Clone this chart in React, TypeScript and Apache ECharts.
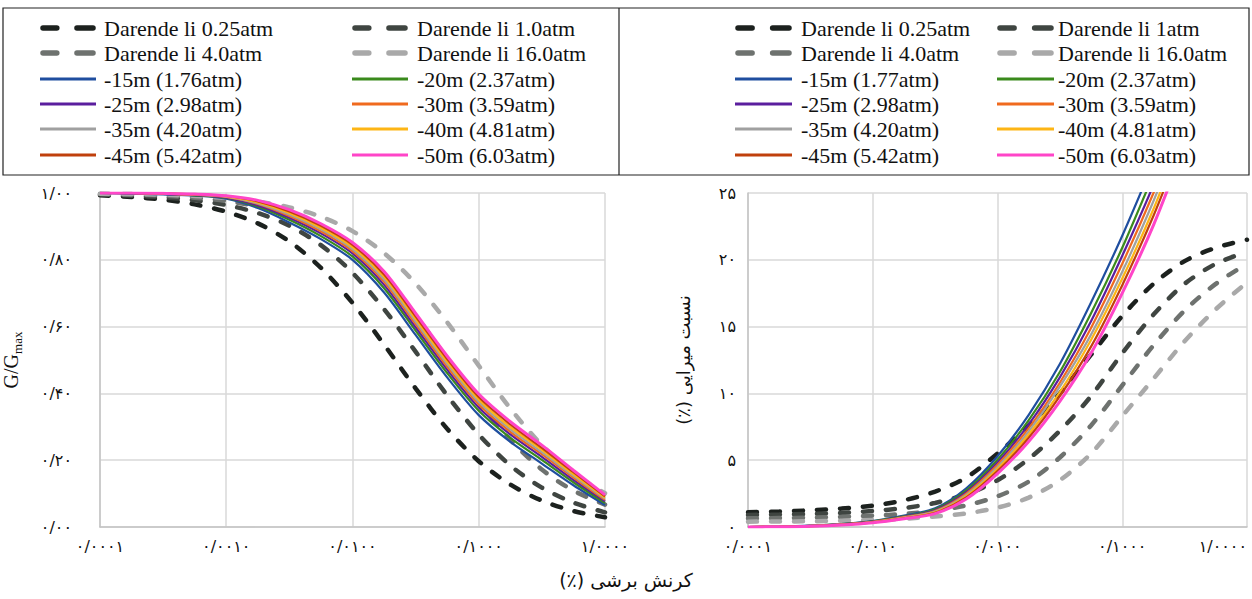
import React, { useEffect, useRef } from "react";
import * as echarts from "echarts";

// shear strain (%) sample points, quarter-decade steps
const strain = [
  0.0001, 0.000178, 0.000316, 0.000562, 0.001, 0.00178, 0.00316, 0.00562,
  0.01, 0.0178, 0.0316, 0.0562, 0.1, 0.178, 0.316, 0.562, 1,
];

const xTickLabels = ["۰/۰۰۰۱", "۰/۰۰۱۰", "۰/۰۱۰۰", "۰/۱۰۰۰", "۱/۰۰۰۰"];
const ggTickLabels = ["۰/۰۰", "۰/۲۰", "۰/۴۰", "۰/۶۰", "۰/۸۰", "۱/۰۰"];
const dampTickLabels = ["۰", "۵", "۱۰", "۱۵", "۲۰", "۲۵"];

const xTitle = "\u200Fکرنش برشی (٪)\u200F";
const dampTitle = "\u200Fنسبت میرایی (٪)\u200F";

const leftNames = [
  "Darende li 0.25atm", "Darende li 1.0atm", "Darende li 4.0atm", "Darende li 16.0atm",
  "-15m (1.76atm)", "-20m (2.37atm)", "-25m (2.98atm)", "-30m (3.59atm)",
  "-35m (4.20atm)", "-40m (4.81atm)", "-45m (5.42atm)", "-50m (6.03atm)",
];
const rightNames = [
  "Darende li 0.25atm", "Darende li 1atm", "Darende li 4.0atm", "Darende li 16.0atm",
  "-15m (1.77atm)", "-20m (2.37atm)", "-25m (2.98atm)", "-30m (3.59atm)",
  "-35m (4.20atm)", "-40m (4.81atm)", "-45m (5.42atm)", "-50m (6.03atm)",
];

// G/Gmax – Darendeli reference curves
const gDar025 = [0.993, 0.988, 0.980, 0.966, 0.944, 0.909, 0.855, 0.776, 0.671, 0.546, 0.415, 0.294, 0.197, 0.127, 0.079, 0.048, 0.029];
const gDar1 = [0.996, 0.992, 0.987, 0.978, 0.964, 0.940, 0.902, 0.844, 0.761, 0.652, 0.525, 0.394, 0.277, 0.184, 0.118, 0.073, 0.044];
const gDar4 = [0.997, 0.995, 0.992, 0.986, 0.976, 0.960, 0.935, 0.894, 0.832, 0.745, 0.633, 0.504, 0.374, 0.261, 0.172, 0.109, 0.067];
const gDar16 = [0.998, 0.997, 0.995, 0.991, 0.985, 0.974, 0.957, 0.929, 0.886, 0.820, 0.729, 0.613, 0.483, 0.355, 0.245, 0.160, 0.101];
// G/Gmax – depths
const g15 = [1.000, 0.999, 0.996, 0.992, 0.983, 0.955, 0.912, 0.862, 0.800, 0.702, 0.575, 0.448, 0.335, 0.255, 0.190, 0.125, 0.066];
const g20 = [1.000, 0.999, 0.997, 0.993, 0.985, 0.960, 0.920, 0.871, 0.810, 0.715, 0.588, 0.461, 0.348, 0.267, 0.201, 0.134, 0.072];
const g25 = [1.000, 0.999, 0.997, 0.994, 0.986, 0.963, 0.926, 0.879, 0.819, 0.725, 0.598, 0.471, 0.358, 0.277, 0.210, 0.141, 0.077];
const g30 = [1.000, 1.000, 0.998, 0.995, 0.988, 0.967, 0.931, 0.885, 0.826, 0.734, 0.608, 0.480, 0.367, 0.285, 0.218, 0.148, 0.081];
const g35 = [1.000, 1.000, 0.998, 0.995, 0.989, 0.969, 0.936, 0.891, 0.832, 0.741, 0.615, 0.488, 0.374, 0.292, 0.224, 0.153, 0.085];
const g40 = [1.000, 1.000, 0.998, 0.996, 0.990, 0.972, 0.940, 0.896, 0.838, 0.749, 0.623, 0.495, 0.382, 0.299, 0.231, 0.158, 0.088];
const g45 = [1.000, 1.000, 0.999, 0.996, 0.991, 0.975, 0.945, 0.902, 0.845, 0.756, 0.631, 0.503, 0.389, 0.307, 0.237, 0.164, 0.092];
const g50 = [1.000, 1.000, 0.999, 0.997, 0.992, 0.978, 0.950, 0.908, 0.852, 0.765, 0.640, 0.512, 0.398, 0.315, 0.245, 0.170, 0.096];

// damping (%) – Darendeli reference curves
const dDar025 = [1.10, 1.16, 1.25, 1.38, 1.60, 2.00, 2.65, 3.70, 5.50, 7.60, 10.0, 12.9, 15.8, 18.2, 19.9, 20.9, 21.5];
const dDar1 = [0.90, 0.93, 0.98, 1.05, 1.20, 1.42, 1.80, 2.45, 3.50, 5.10, 7.20, 9.80, 13.0, 15.9, 18.2, 19.7, 20.6];
const dDar4 = [0.65, 0.67, 0.70, 0.76, 0.85, 0.98, 1.22, 1.62, 2.30, 3.40, 5.20, 7.60, 10.6, 13.6, 16.2, 18.2, 19.7];
const dDar16 = [0.40, 0.41, 0.43, 0.47, 0.53, 0.62, 0.78, 1.02, 1.45, 2.20, 3.50, 5.50, 8.30, 11.1, 13.9, 16.3, 18.3];
// damping (%) – depths
const d15 = [0, 0.03, 0.10, 0.22, 0.45, 0.85, 1.40, 2.90, 5.30, 8.40, 12.2, 16.8, 21.8, 27.3, 33.0, 37.0, 40.0];
const d20 = [0, 0.03, 0.09, 0.21, 0.42, 0.80, 1.32, 2.74, 5.04, 8.00, 11.6, 16.0, 20.9, 26.4, 32.1, 36.4, 39.6];
const d25 = [0, 0.03, 0.09, 0.20, 0.40, 0.77, 1.26, 2.61, 4.83, 7.68, 11.2, 15.4, 20.3, 25.6, 31.4, 35.9, 39.3];
const d30 = [0, 0.03, 0.08, 0.19, 0.39, 0.74, 1.20, 2.50, 4.65, 7.40, 10.8, 14.9, 19.7, 25.0, 30.8, 35.5, 39.0];
const d35 = [0, 0.02, 0.08, 0.18, 0.37, 0.71, 1.15, 2.40, 4.49, 7.16, 10.5, 14.4, 19.1, 24.4, 30.2, 35.1, 38.8];
const d40 = [0, 0.02, 0.07, 0.17, 0.35, 0.68, 1.10, 2.31, 4.34, 6.92, 10.1, 14.0, 18.6, 23.8, 29.7, 34.8, 38.5];
const d45 = [0, 0.02, 0.07, 0.16, 0.34, 0.65, 1.06, 2.21, 4.18, 6.68, 9.79, 13.5, 18.1, 23.3, 29.1, 34.4, 38.3];
const d50 = [0, 0.02, 0.06, 0.15, 0.32, 0.62, 1.00, 2.10, 4.00, 6.40, 9.40, 13.0, 17.5, 22.6, 28.5, 34.0, 38.0];

const leftValues = [gDar025, gDar1, gDar4, gDar16, g15, g20, g25, g30, g35, g40, g45, g50];
const rightValues = [dDar025, dDar1, dDar4, dDar16, d15, d20, d25, d30, d35, d40, d45, d50];

const colors = [
  "#1c211e", "#3f4541", "#6e726f", "#a9a9a9",
  "#1f4e9f", "#3a8a1c", "#5b1e9e", "#f06a1e",
  "#a0a0a0", "#fdb515", "#c0400c", "#ff45c8",
];

const SERIF = "'Liberation Serif', 'Times New Roman', serif";
const ARAB = "'DejaVu Sans', sans-serif";

function buildSeries(names: string[], values: number[][], axisIndex: number) {
  return names.map((name, i) => {
    const dashed = i < 4;
    return {
      name,
      type: "line",
      xAxisIndex: axisIndex,
      yAxisIndex: axisIndex,
      data: strain.map((s, k) => [s, values[i][k]]),
      symbol: "none",
      smooth: 0.3,
      clip: true,
      z: dashed ? 2 : 3 + i,
      lineStyle: dashed
        ? { color: colors[i], width: 4.5, type: [9, 14], cap: "round" }
        : { color: colors[i], width: i === 11 ? 3 : 2.2 },
    };
  });
}

function legendGraphics(names: string[], symX: number[], textX: number[], symW: number) {
  const rows = [28, 53, 79, 104, 129, 155];
  const els: any[] = [];
  names.forEach((name, i) => {
    const col = i % 2;
    const row = Math.floor(i / 2);
    const y = rows[row];
    const x0 = symX[col];
    const dashed = i < 4;
    if (dashed) {
      els.push({
        type: "line",
        shape: { x1: x0 + 3, y1: y, x2: x0 + symW * 0.3, y2: y },
        style: { stroke: colors[i], lineWidth: 5.5, lineCap: "round" },
      });
      els.push({
        type: "line",
        shape: { x1: x0 + symW * 0.66, y1: y, x2: x0 + symW - 3, y2: y },
        style: { stroke: colors[i], lineWidth: 5.5, lineCap: "round" },
      });
    } else {
      els.push({
        type: "line",
        shape: { x1: x0, y1: y, x2: x0 + symW, y2: y },
        style: { stroke: colors[i], lineWidth: 3 },
      });
    }
    els.push({
      type: "text",
      style: {
        text: name,
        x: textX[col],
        y: y,
        fill: "#111",
        fontSize: 22,
        fontFamily: SERIF,
        verticalAlign: "middle",
        align: "left",
      },
    });
  });
  return els;
}

const xLabel = (v: number) => {
  const idx = Math.round(Math.log10(v)) + 4;
  return xTickLabels[idx] ?? "";
};

export default function App() {
  const ref = useRef<HTMLDivElement>(null);
  useEffect(() => {
    if (!ref.current) return;
    const chart = echarts.init(ref.current, undefined, { renderer: "svg" });
    const axisLineStyle = { lineStyle: { color: "#c4c4c4", width: 1.5 } };
    const splitLine = { show: true, lineStyle: { color: "#d9d9d9", width: 1.5 } };
    const xAxisBase = {
      type: "log",
      logBase: 10,
      min: 0.0001,
      max: 1,
      axisLine: { show: true, ...axisLineStyle },
      axisTick: { show: false },
      splitLine,
    };
    const xLabelBase = {
      formatter: xLabel,
      fontFamily: ARAB,
      fontSize: 16,
      color: "#111",
      margin: 11,
      hideOverlap: false,
    };
    const option: any = {
      animation: false,
      backgroundColor: "#fff",
      grid: [
        { left: 100, top: 193, width: 505, height: 334, containLabel: false, outerBoundsMode: "none" },
        { left: 748, top: 193, width: 499, height: 334, containLabel: false, outerBoundsMode: "none" },
      ],
      xAxis: [
        { ...xAxisBase, gridIndex: 0, axisLabel: { ...xLabelBase } },
        { ...xAxisBase, gridIndex: 1, axisLabel: { ...xLabelBase, alignMaxLabel: "right" } },
      ],
      yAxis: [
        {
          gridIndex: 0,
          type: "value",
          min: 0,
          max: 1,
          interval: 0.2,
          axisLine: { show: true, ...axisLineStyle },
          axisTick: { show: false },
          splitLine,
          axisLabel: {
            formatter: (v: number) => ggTickLabels[Math.round(v * 5)] ?? "",
            fontFamily: ARAB,
            fontSize: 16,
            color: "#111",
            margin: 28,
          },
          name: "G/G{sub|max}",
          nameLocation: "middle",
          nameGap: 76,
          nameRotate: 90,
          nameTextStyle: {
            fontFamily: SERIF,
            fontSize: 20,
            color: "#111",
            lineHeight: 26,
            rich: {
              sub: { fontFamily: SERIF, fontSize: 13, lineHeight: 26, verticalAlign: "bottom", color: "#111" },
            },
          },
        },
        {
          gridIndex: 1,
          type: "value",
          min: 0,
          max: 25,
          interval: 5,
          axisLine: { show: true, ...axisLineStyle },
          axisTick: { show: false },
          splitLine,
          axisLabel: {
            formatter: (v: number) => dampTickLabels[Math.round(v / 5)] ?? "",
            fontFamily: ARAB,
            fontSize: 16,
            color: "#111",
            margin: 12,
          },
          name: dampTitle,
          nameLocation: "middle",
          nameGap: 56,
          nameRotate: 90,
          nameTextStyle: { fontFamily: ARAB, fontSize: 18, color: "#111" },
        },
      ],
      series: [
        ...buildSeries(leftNames, leftValues, 0),
        ...buildSeries(rightNames, rightValues, 1),
      ],
      graphic: [
        {
          type: "rect",
          shape: { x: 3, y: 8, width: 1246, height: 167 },
          style: { fill: "none", stroke: "#222", lineWidth: 1.2 },
        },
        {
          type: "line",
          shape: { x1: 619, y1: 8, x2: 619, y2: 175 },
          style: { stroke: "#222", lineWidth: 1.2 },
        },
        ...legendGraphics(leftNames, [40, 352], [104, 417], 56),
        ...legendGraphics(rightNames, [735, 997], [801, 1058], 57),
        {
          type: "text",
          style: {
            text: xTitle,
            x: 626,
            y: 580,
            align: "center",
            verticalAlign: "middle",
            fontFamily: ARAB,
            fontSize: 19,
            fill: "#111",
          },
        },
      ],
    };
    chart.setOption(option);
    return () => chart.dispose();
  }, []);
  return (
    <div
      ref={ref}
      style={{ position: "absolute", left: 0, top: 0, width: 1252, height: 599, background: "#fff" }}
    />
  );
}
